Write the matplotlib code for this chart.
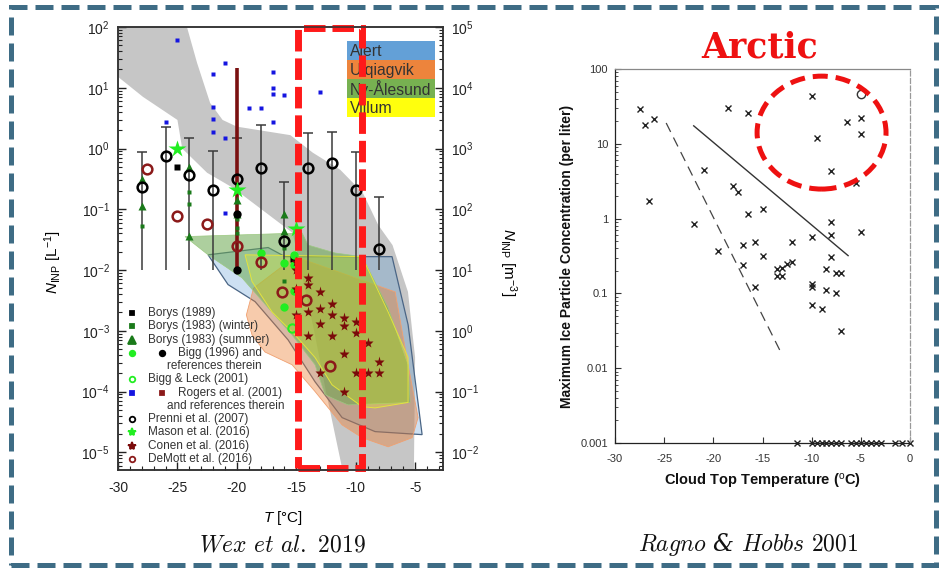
import matplotlib.pyplot as plt
import numpy as np
from matplotlib.patches import Polygon, Rectangle, Ellipse
from matplotlib.transforms import blended_transform_factory
from matplotlib.ticker import LogLocator, NullFormatter, MultipleLocator, FixedLocator, FixedFormatter

plt.rcParams['font.family'] = ['Liberation Sans', 'DejaVu Sans']
plt.rcParams['mathtext.fontset'] = 'custom'
plt.rcParams['mathtext.rm'] = 'Liberation Sans'
plt.rcParams['mathtext.it'] = 'Liberation Sans:italic'
plt.rcParams['mathtext.bf'] = 'Liberation Sans:bold'
plt.rcParams['axes.unicode_minus'] = False

# ---------------- Wex et al. 2019 (left) ----------------
# envelopes: T [degC], log10 N_INP [L-1]
gray_T = [-30, -24.2, -23.35, -22.25, -21.2, -20.0, -15.5, -13.6, -11.3, -9.4, -8.1, -6.9, -5.6, -5.0, -5.1,
          -11.1, -12.5, -13.5, -15.3, -20.3, -22.5, -24.6, -25.0, -27.9, -30]
gray_logN = [2.0, 2.0, 1.41, 0.75, 0.47, 0.36, 0.22, -0.07, -0.35, -0.73, -1.26, -1.59, -2.36, -3.44, -5.3,
             -5.3, -4.0, -3.0, -1.39, -0.65, -0.40, 0.0, 0.47, 0.85, 1.18]

alert_T = [-22.42, -17.37, -15.94, -6.94, -5.59, -4.41, -8.37, -11.14, -13.42, -15.69, -18.47, -20.74]
alert_logN = [-1.75, -1.63, -1.78, -1.78, -2.90, -4.71, -4.66, -4.43, -3.84, -3.15, -2.52, -2.24]

utq_T = [-15.1, -6.68, -5.59, -4.75, -5.25, -7.27, -9.46, -11.14, -13.42, -15.35, -17.63, -18.72, -19.2, -18.6]
utq_logN = [-1.78, -2.36, -3.56, -4.43, -4.76, -4.91, -4.76, -4.55, -4.0, -3.56, -3.35, -3.07, -2.74, -2.3]

ny_T = [-24.36, -14.51, -14.0, -11.73, -9.46, -7.27, -5.59, -5.42, -10.64, -11.73, -12.58, -13.42, -15.35,
        -17.37, -19.56, -22.42]
ny_logN = [-1.45, -1.39, -1.59, -1.72, -1.78, -2.62, -3.56, -4.18, -4.22, -4.13, -4.05, -3.56, -3.07,
           -2.62, -2.13, -1.75]

villum_T = [-19.31, -9.46, -7.27, -5.59, -5.59, -8.37, -9.46, -11.99, -13.42, -15.1, -17.04, -18.72]
villum_logN = [-1.75, -1.78, -2.69, -3.44, -4.18, -4.27, -4.25, -3.89, -3.44, -3.07, -2.69, -2.19]

# measurements, N_INP [L-1]
rogers_blue_T = [-25, -21, -22, -17, -17, -17, -16, -13, -22, -19, -18, -22, -26, -17, -22, -21, -21]
rogers_blue_N = [61, 26, 17, 18, 10, 8, 7.6, 8.5, 4.8, 4.6, 4.6, 3.1, 2.7, 2.7, 1.9, 1.5, 0.087]

prenni_T = [-28, -26, -24, -22, -20, -18, -16, -14, -12, -10, -8]
prenni_N = [0.23, 0.75, 0.37, 0.21, 0.32, 0.48, 0.030, 0.48, 0.57, 0.21, 0.022]
prenni_hi = [0.87, 2.3, 1.5, 0.9, 1.5, 2.4, 0.28, 1.8, 1.9, 0.87, 0.16]
prenni_lo = [0.01, 0.01, 0.01, 0.01, 0.01, 0.01, 0.01, 0.01, 0.01, 0.01, 0.01]

demott_T = [-27.6, -25.0, -22.5, -20.0, -18.0, -16.2, -14.2, -12.2]
demott_N = [0.46, 0.078, 0.057, 0.025, 0.0136, 0.0044, 0.0032, 0.00026]

borys83s_T = [-28, -28, -24, -24, -20, -20, -16, -16]
borys83s_N = [0.32, 0.115, 0.50, 0.036, 0.14, 0.083, 0.083, 0.044]

borys83w_T = [-28, -24, -24, -20, -20, -20, -16, -16]
borys83w_N = [0.054, 0.19, 0.12, 0.07, 0.05, 0.04, 0.023, 0.0065]

borys89_T = [-25, -15.3]
borys89_N = [0.5, 0.015]

bigg_green_T = [-18, -16, -16, -15.2, -15.2, -15.2]
bigg_green_N = [0.019, 0.013, 0.0025, 0.018, 0.012, 0.0045]
bigg_black_T = [-20, -20]
bigg_black_N = [0.01, 0.085]
bigg_range_T = [-20]
bigg_range_lo = [0.01]
bigg_range_hi = [21]

biggleck_T = [-15.4]
biggleck_N = [0.0011]

mason_T = [-25, -20, -15]
mason_N = [1.0, 0.21, 0.047]

conen_T = [-15, -15, -14, -14, -13, -15, -15, -14, -13, -12, -12, -11, -11, -10, -10, -13, -14, -12,
           -9, -11, -8, -13, -10, -9, -8, -11]
conen_N = [0.010, 0.0135, 0.0074, 0.0057, 0.0043, 0.0049, 0.0018, 0.0020, 0.0023, 0.0028, 0.0018, 0.0016,
           0.0012, 0.0014, 0.00093, 0.0013, 0.00083, 0.00083, 0.00063, 0.00042, 0.00031, 0.00020, 0.00020,
           0.00020, 0.00020, 0.0001]

stations = ['Alert', 'Utqiagvik', 'Ny-Ålesund', 'Villum']
station_colors = ['#5b9bd5', '#ed7d31', '#70ad47', '#ffff00']

# ---------------- Ragno & Hobbs 2001 (right) ----------------
rh_T = [-27.5, -27, -26, -26.5, -18.5, -16.5, -21, -18, -17.5, -16.5, -15, -22, -19.5, -17, -15.8, -15, -17,
        -12, -10, -8, -8, -5, -8, -8.5, -7.5, -7, -13.5, -13, -12.5, -12, -13.5, -13, -10, -10, -8.5, -15.8,
        -7.5, -10, -9, -7, -10, -6.4, -5, -5, -9.5, -8, -5.5]
rh_C = [29, 18, 21.5, 1.7, 30, 26, 4.5, 2.7, 2.3, 1.17, 1.35, 0.85, 0.37, 0.44, 0.48, 0.32, 0.24,
        0.48, 0.56, 0.89, 0.61, 0.66, 0.31, 0.21, 0.19, 0.19, 0.21, 0.22, 0.25, 0.26, 0.17, 0.17, 0.135, 0.12,
        0.11, 0.12, 0.10, 0.071, 0.062, 0.031, 44, 19.5, 22, 13.5, 12, 4.3, 3.0]
rh_open_T = [-5]
rh_open_C = [47]
rh_zero_T = [-11.5, -10, -9.5, -9, -8.5, -8, -7.5, -7, -6, -5.5, -5, -4.5, -4, -3.5, -3, -1.5, -0.8, 0]
rh_zero_C = [0.001, 0.001, 0.001, 0.001, 0.001, 0.001, 0.001, 0.001, 0.001, 0.001, 0.001, 0.001, 0.001,
             0.001, 0.001, 0.001, 0.001, 0.001]
solid_T = [-22, -6.3]
solid_C = [17.4, 0.32]
dashed_T = [-24.8, -13]
dashed_C = [19, 0.015]

fig = plt.figure(figsize=(9.42, 5.70), dpi=100)

# ======== left panel ========
ax = fig.add_axes([0.1253, 0.1754, 0.345, 0.7772])
ax.set_yscale('log')
ax.set_xlim(-30, -2.65)
ax.set_ylim(5.1e-6, 100)


def shade(T, logN, face, alpha, edge, z, lw=0.9):
    pts = np.column_stack([T, 10 ** np.array(logN)])
    ax.add_patch(Polygon(pts, closed=True, facecolor=face, alpha=alpha, edgecolor='none', zorder=z))
    ax.add_patch(Polygon(pts, closed=True, facecolor='none', edgecolor=edge, lw=lw, zorder=z))


shade(gray_T, gray_logN, '#c6c6c6', 1.0, 'none', 1)
shade(alert_T, alert_logN, '#5b9bd5', 0.3, '#4a6585', 2)
shade(utq_T, utq_logN, '#ed7d31', 0.4, '#f0a070', 3, 0.6)
shade(ny_T, ny_logN, '#6aa84f', 0.55, '#9cc880', 4, 0.5)
shade(villum_T, villum_logN, '#ffff00', 0.22, '#e4e43c', 5, 0.7)

ax.vlines(prenni_T, prenni_lo, prenni_hi, color='#3a3a3a', lw=1.1, zorder=6)
ax.plot(prenni_T, prenni_hi, ls='none', marker='_', ms=7, mew=1.1, color='#3a3a3a', zorder=6)
ax.vlines(bigg_range_T, bigg_range_lo, bigg_range_hi, color='#7a1010', lw=2.6, zorder=7)

ax.plot(rogers_blue_T, rogers_blue_N, 's', ms=3.5, color='#1515e0', mec='none', zorder=8)
ax.plot(borys83w_T, borys83w_N, 's', ms=3.5, color='#1a7a1a', mec='none', zorder=8)
ax.plot(borys83s_T, borys83s_N, '^', ms=6, color='#1a7a1a', mec='none', zorder=8)
ax.plot(borys89_T, borys89_N, 's', ms=5, color='black', mec='none', zorder=8)
ax.plot(bigg_green_T, bigg_green_N, 'o', ms=6, color='#22ee22', mec='none', zorder=8)
ax.plot(bigg_black_T, bigg_black_N, 'o', ms=6, color='black', mec='none', zorder=9)
ax.plot(biggleck_T, biggleck_N, 'o', ms=6, mfc='none', mec='#22ee22', mew=1.5, zorder=8)
ax.plot(prenni_T, prenni_N, 'o', ms=7, mfc='none', mec='black', mew=1.8, zorder=9)
ax.plot(demott_T, demott_N, 'o', ms=7, mfc='none', mec='#8b1a1a', mew=1.8, zorder=9)
ax.plot(mason_T, mason_N, '*', ms=13, color='#22ee22', mec='none', zorder=9)
ax.plot(conen_T, conen_N, '*', ms=8, color='#7a0a0a', mec='none', zorder=9)

# station legend box
for i, (name, c) in enumerate(zip(stations, station_colors)):
    y0 = 0.968 - (i + 1) * 0.0428
    ax.add_patch(Rectangle((0.705, y0), 0.27, 0.0428, transform=ax.transAxes, facecolor=c,
                           edgecolor='none', alpha=0.95, zorder=11))
    ax.text(0.714, y0 + 0.020, name, transform=ax.transAxes, fontsize=11.3, color='#333333',
            va='center', ha='left', zorder=12)

# marker legend
leg_rows = [
    (0.354, [('s', 'black', 'black', 3.5)], 'Borys (1989)', 0.092),
    (0.325, [('s', '#1a7a1a', '#1a7a1a', 3.5)], 'Borys (1983) (winter)', 0.092),
    (0.293, [('^', '#1a7a1a', '#1a7a1a', 5.5)], 'Borys (1983) (summer)', 0.092),
    (0.264, [('o', '#22ee22', '#22ee22', 4), ('o', 'black', 'black', 4)], 'Bigg (1996) and', 0.185),
    (0.235, [], 'references therein', 0.151),
    (0.205, [('o', 'none', '#22ee22', 4)], 'Bigg & Leck (2001)', 0.092),
    (0.174, [('s', '#1515e0', '#1515e0', 3.5), ('s', '#8b1a1a', '#8b1a1a', 3.5)], 'Rogers et al. (2001)', 0.185),
    (0.144, [], 'and references therein', 0.151),
    (0.115, [('o', 'none', 'black', 4)], 'Prenni et al. (2007)', 0.092),
    (0.086, [('*', '#22ee22', '#22ee22', 6)], 'Mason et al. (2016)', 0.092),
    (0.054, [('*', '#7a0a0a', '#7a0a0a', 6)], 'Conen et al. (2016)', 0.092),
    (0.025, [('o', 'none', '#8b1a1a', 4)], 'DeMott et al. (2016)', 0.092),
]
for y, marks, label, tx in leg_rows:
    for j, (m, fc, ec, ms) in enumerate(marks):
        ax.plot([0.043 + j * 0.092], [y], marker=m, ms=ms, mfc=fc, mec=ec, mew=1.3,
                transform=ax.transAxes, clip_on=False, zorder=12)
    ax.text(tx, y, label, transform=ax.transAxes, fontsize=8.5, color='#333333', va='center', ha='left', zorder=12)

# red dashed highlight
trans = blended_transform_factory(ax.transData, ax.transAxes)
ax.add_patch(Rectangle((-14.85, 0.005), 5.4, 0.992, transform=trans, fill=False, edgecolor='#ff1a1a',
                       lw=5, ls=(0, (3.1, 1.0)), clip_on=False, zorder=13))

ax.xaxis.set_major_locator(MultipleLocator(5))
ax.xaxis.set_minor_locator(MultipleLocator(1))
ax.yaxis.set_major_locator(LogLocator(base=10, numticks=20))
ax.yaxis.set_minor_locator(LogLocator(base=10, subs=range(2, 10), numticks=20))
ax.yaxis.set_minor_formatter(NullFormatter())
ax.tick_params(which='both', direction='in', top=False, right=False, colors='#222222', labelsize=10)
ax.tick_params(which='major', length=6, width=1)
ax.tick_params(which='minor', length=3, width=0.8)
ax.tick_params(axis='x', pad=8)
ax.tick_params(axis='y', pad=6)
for s in ax.spines.values():
    s.set_color('#333333')
    s.set_linewidth(1.1)

ax.set_xlabel(r'$T$ [°C]', fontsize=11)
ax.xaxis.set_label_coords(0.508, -0.088)
ax.set_ylabel(r'$N_{\mathrm{INP}}$ [L$^{-1}$]', fontsize=11)
ax.yaxis.set_label_coords(-0.165, 0.47)

ax2 = ax.twinx()
ax2.set_yscale('log')
ax2.set_ylim(5.1e-3, 1e5)
ax2.yaxis.set_major_locator(LogLocator(base=10, numticks=20))
ax2.yaxis.set_minor_locator(LogLocator(base=10, subs=range(2, 10), numticks=20))
ax2.yaxis.set_minor_formatter(NullFormatter())
ax2.tick_params(which='both', direction='in', colors='#222222', labelsize=10, pad=6)
ax2.tick_params(which='major', length=6, width=1)
ax2.tick_params(which='minor', length=3, width=0.8)
for s in ax2.spines.values():
    s.set_color('#333333')
    s.set_linewidth(1.1)
ax2.set_ylabel(r'$N_{\mathrm{INP}}$ [m$^{-3}$]', fontsize=11, rotation=270, va='center')
ax2.yaxis.set_label_coords(1.2, 0.47)

# ======== right panel ========
bx = fig.add_axes([0.6529, 0.2228, 0.3132, 0.6561])
bx.set_yscale('log')
bx.set_xlim(-30, 0)
bx.set_ylim(0.001, 100)
bx.plot(solid_T, solid_C, color='#333333', lw=1.0)
bx.plot(dashed_T, dashed_C, color='#444444', lw=0.9, ls=(0, (8, 5)))
bx.plot(rh_T, rh_C, 'x', ms=4, mew=1.0, color='#222222')
bx.plot(rh_zero_T, rh_zero_C, 'x', ms=4, mew=1.0, color='#222222', clip_on=False)
bx.plot(rh_open_T, rh_open_C, 'o', ms=6, mfc='none', mec='#333333', mew=1.0)

bx.add_patch(Ellipse((0.70, 0.83), 0.437, 0.302, transform=bx.transAxes, fill=False, edgecolor='#ee1111',
                     lw=3.6, ls=(0, (3, 1.6)), clip_on=False, zorder=10))

bx.yaxis.set_major_locator(FixedLocator([0.001, 0.01, 0.1, 1, 10, 100]))
bx.yaxis.set_major_formatter(FixedFormatter(['0.001', '0.01', '0.1', '1', '10', '100']))
bx.yaxis.set_minor_locator(LogLocator(base=10, subs=range(2, 10), numticks=20))
bx.yaxis.set_minor_formatter(NullFormatter())
bx.xaxis.set_major_locator(MultipleLocator(5))
bx.tick_params(which='both', direction='in', top=False, right=False, colors='#333333', labelsize=8)
bx.tick_params(which='major', length=4, width=0.8)
bx.tick_params(which='minor', length=2, width=0.6)
bx.tick_params(axis='x', pad=8)
bx.tick_params(axis='y', pad=5)
bx.spines['left'].set_color('#222222')
bx.spines['bottom'].set_color('#222222')
bx.spines['top'].set_color('#888888')
bx.spines['top'].set_linestyle((0, (6, 1, 1, 1)))
bx.spines['right'].set_color('#999999')
bx.spines['right'].set_linestyle((0, (4, 2)))
for s in bx.spines.values():
    s.set_linewidth(0.9)

bx.set_xlabel('Cloud Top Temperature ($^{\\mathrm{o}}$C)', fontsize=10.5, fontweight='bold', color='#111111')
bx.xaxis.set_label_coords(0.498, -0.078)
bx.set_ylabel('Maximum Ice Particle Concentration (per liter)', fontsize=10, fontweight='bold', color='#111111')
bx.yaxis.set_label_coords(-0.14, 0.5)

# ======== annotations ========
fig.text(760 / 942, 1 - 47 / 570, 'Arctic', fontsize=25, fontweight='bold', family='DejaVu Serif',
         color='#ee1111', ha='center', va='center')
fig.text(283 / 942, 1 - 545 / 570, r'$\mathit{Wex}$ $\mathit{et}$ $\mathit{al.}$ $2019$', fontsize=17,
         math_fontfamily='cm', family='DejaVu Serif', style='italic', ha='center', va='center', color='#111111')
fig.text(748 / 942, 1 - 545 / 570, r'$\mathit{Ragno}$ & $\mathit{Hobbs}$ $2001$', fontsize=17,
         math_fontfamily='cm', family='DejaVu Serif', style='italic', ha='center', va='center', color='#111111')

fig.patches.append(Rectangle((10.5 / 942, 1 - 565 / 570), 925.5 / 942, 558.5 / 570, transform=fig.transFigure,
                             fill=False, edgecolor='#3e6c85', lw=3.6, ls=(0, (3.6, 1.6)), figure=fig))

fig.savefig('out.png', dpi=100)
